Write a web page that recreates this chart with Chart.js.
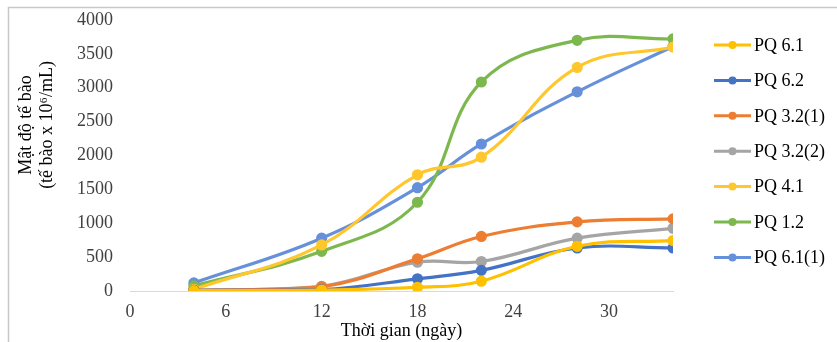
<!DOCTYPE html>
<html>
<head>
<meta charset="utf-8">
<script src="https://cdn.jsdelivr.net/npm/chart.js@4"></script>
<style>
  body { margin: 0; background: #fff; }
</style>
</head>
<body>
<canvas id="growthChart" width="837" height="342"></canvas>
<script>
const days = [4, 12, 18, 22, 28, 34];
const seriesNames = ["PQ 6.1", "PQ 6.2", "PQ 3.2(1)", "PQ 3.2(2)", "PQ 4.1", "PQ 1.2", "PQ 6.1(1)"];
const pq61 = [5, 15, 55, 145, 660, 745];
const pq62 = [10, 20, 180, 305, 635, 635];
const pq321 = [10, 60, 475, 805, 1020, 1065];
const pq322 = [10, 70, 425, 435, 780, 925];
const pq41 = [25, 680, 1715, 1975, 3300, 3600];
const pq12 = [75, 585, 1310, 3085, 3700, 3720];
const pq611 = [120, 780, 1525, 2170, 2940, 3610];
const xTicks = [0, 6, 12, 18, 24, 30];
const yTicks = [0, 500, 1000, 1500, 2000, 2500, 3000, 3500, 4000];
const yTitle = ["Mật độ tế bào", "(tế bào x 10⁶/mL)"];
const colors = ["#FFC000", "#4472C4", "#ED7D31", "#A5A5A5", "#FFC72C", "#7DB84E", "#6690DA"];

const allValues = [pq61, pq62, pq321, pq322, pq41, pq12, pq611];

function toPoints(values) {
  return values.map((v, i) => ({ x: days[i], y: v }));
}

const serif = "'Liberation Serif', 'Times New Roman', serif";

// frame, y title and legend are drawn by hand to sit like the Excel ones
const extras = {
  id: "extras",
  afterDraw(chart) {
    const c = chart.ctx;
    c.save();
    c.strokeStyle = "#c8c8c8";
    c.lineWidth = 1.5;
    c.beginPath();
    c.moveTo(8.5, 400);
    c.lineTo(8.5, 7.5);
    c.lineTo(837, 7.5);
    c.stroke();
    c.restore();

    c.save();
    // y axis title, two rotated lines
    c.translate(0, 125);
    c.rotate(-Math.PI / 2);
    c.fillStyle = "#000";
    c.font = "18px " + serif;
    c.textAlign = "center";
    c.textBaseline = "middle";
    c.fillText(yTitle[0], 0, 26);
    c.fillText(yTitle[1], 0, 47);
    c.restore();

    c.save();
    chart.data.datasets.forEach((ds, i) => {
      const y = 45 + i * 35.4;
      c.strokeStyle = ds.borderColor;
      c.lineWidth = 3;
      c.beginPath();
      c.moveTo(714, y);
      c.lineTo(751, y);
      c.stroke();
      c.fillStyle = ds.borderColor;
      c.beginPath();
      c.arc(732.5, y, 4, 0, Math.PI * 2);
      c.fill();
      c.fillStyle = "#000";
      c.font = "18px " + serif;
      c.textBaseline = "middle";
      c.textAlign = "left";
      c.fillText(ds.label, 754, y + 1);
    });
    c.restore();
  }
};

const ctx = document.getElementById("growthChart").getContext("2d");
const chart = new Chart(ctx, {
  type: "line",
  data: {
    datasets: seriesNames.map((name, i) => ({
      label: name,
      data: toPoints(allValues[i]),
      borderColor: colors[i],
      backgroundColor: colors[i],
      borderWidth: 3.2,
      pointRadius: 4,
      pointHoverRadius: 4,
      tension: 0.4,
      fill: false
    }))
  },
  options: {
    responsive: false,
    animation: false,
    layout: { padding: { top: 20, right: 164, left: 0, bottom: 0 } },
    plugins: {
      legend: { display: false },
      tooltip: { enabled: false }
    },
    scales: {
      x: {
        type: "linear",
        min: 0,
        max: 34,
        grid: { display: false, drawTicks: false },
        border: { display: true, color: "#d9d9d9", width: 1 },
        afterBuildTicks(scale) {
          scale.ticks = xTicks.map(v => ({ value: v }));
        },
        ticks: {
          padding: 10,
          maxRotation: 0,
          color: "#404040",
          font: { family: serif, size: 18 }
        },
        title: {
          display: true,
          text: "Thời gian (ngày)",
          color: "#000",
          padding: { top: 0, bottom: 0 },
          font: { family: serif, size: 18 }
        },
        afterFit(scale) { scale.height = 51; }
      },
      y: {
        min: 0,
        max: 4000,
        grid: { display: false, drawTicks: false },
        border: { display: false },
        afterBuildTicks(scale) {
          scale.ticks = yTicks.map(v => ({ value: v }));
        },
        ticks: {
          padding: 17,
          color: "#404040",
          font: { family: serif, size: 18 },
          callback: v => String(v)
        },
        afterFit(scale) {
          scale.width = 130;
          scale.paddingTop = 0;
          scale.paddingBottom = 0;
        }
      }
    }
  },
  plugins: [extras]
});
</script>
</body>
</html>
